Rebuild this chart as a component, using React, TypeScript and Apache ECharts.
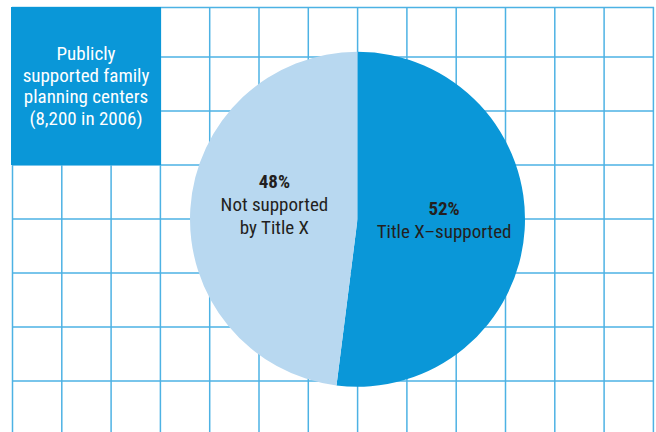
import React, { useEffect, useRef } from "react";
import * as echarts from "echarts";

const categories = ["Title X–supported", "Not supported by Title X"];
const values = [52, 48];
const labelLines = [["Title X–supported"], ["Not supported", "by Title X"]];
const boxLines = ["Publicly", "supported family", "planning centers", "(8,200 in 2006)"];

const FONT = "'Liberation Sans Narrow', 'Arial Narrow', 'Roboto Condensed', sans-serif";
const DARK = "#0a97d8";
const LIGHT = "#b8d8f0";
const GRID = "#4db2e4";

export default function App() {
  const ref = useRef<HTMLDivElement>(null);
  useEffect(() => {
    if (!ref.current) return;
    const chart = echarts.init(ref.current, null, { renderer: "svg" });

    const gridEls: any[] = [];
    const xs: number[] = [];
    for (let i = 0; i < 14; i++) xs.push(12.5 + i * 49.3);
    const ys = [7.5, 57, 111, 165, 219, 273, 327, 381];
    xs.forEach((x) =>
      gridEls.push({
        type: "line",
        z: 0,
        shape: { x1: x, y1: 7, x2: x, y2: 432 },
        style: { stroke: GRID, lineWidth: 1.5 },
      })
    );
    ys.forEach((y) =>
      gridEls.push({
        type: "line",
        z: 0,
        shape: { x1: 12, y1: y, x2: 654, y2: y },
        style: { stroke: GRID, lineWidth: 1.5 },
      })
    );
    gridEls.push({
      type: "rect",
      z: 1,
      shape: { x: 11, y: 7, width: 150, height: 158 },
      style: { fill: DARK },
    });
    gridEls.push({
      type: "text",
      z: 2,
      x: 86,
      y: 86,
      style: {
        text: boxLines.join("\n"),
        fill: "#ffffff",
        font: `19px ${FONT}`,
        lineHeight: 21.7,
        align: "center",
        verticalAlign: "middle",
      },
    });

    const offsets = [
      [0, -5],
      [3.5, -9],
    ];

    chart.setOption({
      animation: false,
      graphic: { elements: gridEls },
      series: [
        {
          type: "pie",
          center: [357.5, 219.2],
          radius: [0, 167.5],
          startAngle: 90,
          clockwise: true,
          silent: true,
          z: 5,
          itemStyle: { borderWidth: 0 },
          label: {
            show: true,
            position: "inside",
            color: "#231f20",
            fontFamily: FONT,
            lineHeight: 23,
            formatter: (p: any) => {
              const lines = labelLines[p.dataIndex];
              return [`{b|${p.value}%}`, ...lines.map((l) => `{n|${l}}`)].join("\n");
            },
            rich: {
              b: { fontSize: 19, fontWeight: "bold", fontFamily: FONT, color: "#231f20", lineHeight: 23 },
              n: { fontSize: 19, fontFamily: FONT, color: "#231f20", lineHeight: 23 },
            },
          },
          labelLine: { show: false },
          data: categories.map((c, i) => ({
            name: c,
            value: values[i],
            itemStyle: { color: i === 0 ? DARK : LIGHT },
            label: { offset: offsets[i] },
          })),
        },
      ],
    });
    return () => chart.dispose();
  }, []);
  return (
    <div
      ref={ref}
      style={{ position: "fixed", left: 0, top: 0, width: 656, height: 432, background: "#fff" }}
    />
  );
}
